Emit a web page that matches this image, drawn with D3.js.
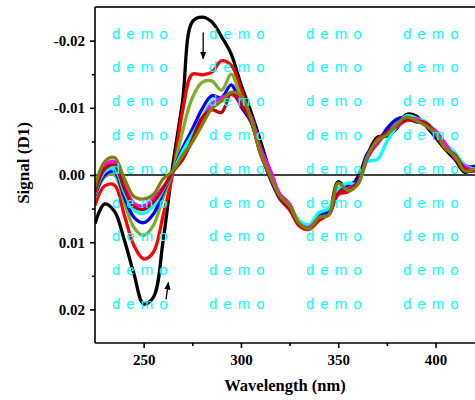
<!DOCTYPE html>
<html>
<head>
<meta charset="utf-8">
<script src="https://cdn.jsdelivr.net/npm/d3@7"></script>
<style>
   body{margin:0;background:#fff;overflow:hidden}
   svg{display:block}
   .tk text{font-family:"Liberation Serif","Times New Roman",serif;font-weight:bold;font-size:15px;fill:#000}
   .tk path, .tk line{stroke:#000;stroke-width:1.6}
   .ttl{font-family:"Liberation Serif","Times New Roman",serif;font-weight:bold;fill:#000}
   .wm{font-family:"Liberation Sans",Arial,sans-serif;font-size:15px;fill:#00ffff;letter-spacing:6px}
</style>
</head>
<body>
<svg id="chart" width="475" height="400"></svg>
<script>
// wavelength (nm) and first derivative signal, values in units of 1e-3
var wavelengths = [225,230,235,240,245,250,255,260,265,270,275,280,285,290,295,300,305,310,315,320,
   325,330,335,340,345,350,355,360,365,370,375,380,385,390,395,400,405,410,415,420,425];

var sBlack = [7.2,4.3,5.4,9.6,14.7,19.2,18.2,9.8,-1.5,-11.0,-22.8,-23.5,-22.8,-20.6,-18.0,-13.5,-9.5,-5.1,-0.4,3.4,
   5.0,7.1,7.7,6.5,5.6,1.0,2.2,0.3,-3.0,-5.6,-5.8,-6.9,-9.0,-8.8,-7.3,-5.6,-3.8,-2.3,-0.4,-1.1,-2.0];
var sRed = [4.5,1.6,1.5,5.9,10.5,12.5,11.5,6.0,-0.3,-9.5,-15.0,-14.9,-15.3,-17.0,-16.3,-12.8,-8.5,-3.4,0.4,3.6,
   5.2,7.6,8.1,6.8,5.8,2.9,2.5,1.3,-2.6,-5.3,-6.4,-7.9,-8.3,-8.1,-7.8,-6.0,-4.4,-3.0,-1.0,-0.9,-1.8];
var sGreen = [3.4,0.3,0.0,4.0,7.8,9.0,7.5,3.3,-0.5,-6.5,-11.5,-13.8,-14.0,-12.6,-15.0,-11.5,-8.3,-3.2,0.2,3.0,
   4.4,7.0,7.8,6.0,5.5,2.4,1.6,0.9,-3.0,-4.8,-6.5,-7.8,-8.4,-8.3,-7.4,-6.3,-4.2,-2.7,-1.2,-1.0,-2.1];
var sBlue = [3.0,0.0,-0.5,3.2,6.3,7.1,5.8,2.6,-0.5,-4.0,-6.8,-9.8,-11.8,-11.5,-13.4,-10.2,-8.0,-3.6,0.5,3.4,
   4.9,7.0,7.6,5.9,5.4,2.2,1.5,0.7,-3.2,-4.6,-6.9,-8.3,-8.6,-7.9,-7.7,-5.6,-4.4,-3.1,-1.4,-1.3,-2.2];
var sCyan = [2.8,-0.5,-1.0,2.5,5.2,5.7,4.6,2.2,-0.5,-3.5,-6.0,-8.5,-10.8,-11.0,-12.3,-10.5,-8.6,-3.8,-0.2,3.0,
   4.5,6.8,7.4,5.6,5.0,2.0,1.2,1.4,-2.0,-2.3,-5.0,-7.2,-8.8,-8.5,-7.9,-6.5,-4.6,-3.3,-1.5,-0.9,-1.7];
var sMagenta = [2.3,-1.4,-2.0,1.5,4.2,4.6,3.5,1.8,-0.5,-2.5,-5.0,-8.0,-10.6,-11.5,-12.0,-10.8,-8.8,-4.0,-0.8,2.8,
   4.3,7.3,7.8,6.4,6.0,2.8,2.0,1.2,-2.5,-4.7,-6.2,-7.2,-8.1,-8.4,-7.5,-6.6,-4.7,-2.5,-1.3,-0.7,-1.9];
var sDarkRed = [2.6,-0.9,-1.5,2.0,4.7,5.1,4.0,2.0,-0.5,-2.3,-5.3,-8.5,-9.7,-9.3,-12.2,-10.5,-8.2,-3.2,0.3,3.3,
   4.8,7.4,8.0,6.5,5.9,2.7,2.2,1.1,-2.7,-5.0,-6.3,-7.4,-8.2,-8.0,-7.8,-6.1,-3.9,-3.0,-0.9,-0.6,-1.8];
var sOlive = [1.8,-2.0,-2.6,0.5,3.2,3.6,2.9,0.6,-0.6,-2.9,-4.9,-7.4,-9.9,-11.0,-12.3,-11.8,-8.5,-3.3,0.1,3.1,
   4.6,7.2,8.0,6.3,6.0,1.2,2.3,1.4,-2.8,-5.1,-6.0,-7.5,-8.6,-8.1,-7.3,-6.2,-4.0,-2.8,-0.6,-0.9,-2.1];

var seriesNames = ['black','red','green','blue','cyan','magenta','darkred','olive'];
var seriesColors = ['#000000','#ff0000','#78b02a','#0000ff','#00ffff','#ff00ff','#c00000','#808000'];
var seriesValues = [sBlack,sRed,sGreen,sBlue,sCyan,sMagenta,sDarkRed,sOlive];

var yTicks = [-0.02,-0.01,0,0.01,0.02];
var yMinor = [-0.015,-0.005,0.005,0.015];
var xTicks = [250,300,350,400];
var xMinor = [275,325,375];

// arrows: [wl, signal] start -> end
var arrowDown = [[280.6,-0.0212],[280.6,-0.0173]];
var arrowUp = [[261.5,0.0185],[262.7,0.0160]];

var svg = d3.select('#chart');
var m = {l:95, t:7, b:343};
var x = d3.scaleLinear().domain([225,425]).range([m.l, m.l + 389.2]);
var y = d3.scaleLinear().domain([-0.025,0.025]).range([m.t, m.b]);

svg.append('defs').append('clipPath').attr('id','plot')
   .append('rect').attr('x',m.l).attr('y',m.t).attr('width',400).attr('height',m.b - m.t);

// frame
svg.append('line').attr('x1',m.l).attr('x2',490).attr('y1',m.t).attr('y2',m.t)
   .attr('stroke','#333').attr('stroke-width',2);

// zero line
svg.append('line').attr('x1',m.l).attr('x2',490).attr('y1',y(0)).attr('y2',y(0))
   .attr('stroke','#000').attr('stroke-width',1.3);

var line = d3.line()
   .x(function(d,i){ return x(wavelengths[i]); })
   .y(function(d){ return y(d*1e-3); })
   .curve(d3.curveCatmullRom.alpha(0.5));

var g = svg.append('g').attr('clip-path','url(#plot)');
seriesValues.forEach(function(vals,i){
   g.append('path')
      .attr('d', line(vals))
      .attr('fill','none')
      .attr('stroke', seriesColors[i])
      .attr('stroke-width', 3.3)
      .attr('stroke-linejoin','round')
      .attr('class','s-' + seriesNames[i]);
});

// arrows
var defs = svg.select('defs');
defs.append('marker').attr('id','ah').attr('viewBox','0 0 10 10').attr('refX',9).attr('refY',5)
   .attr('markerWidth',6).attr('markerHeight',6).attr('orient','auto')
   .append('path').attr('d','M0,1 L10,5 L0,9 z').attr('fill','#000');
[arrowDown, arrowUp].forEach(function(a){
   svg.append('line')
      .attr('x1',x(a[0][0])).attr('y1',y(a[0][1]))
      .attr('x2',x(a[1][0])).attr('y2',y(a[1][1]))
      .attr('stroke','#000').attr('stroke-width',1.3)
      .attr('marker-end','url(#ah)');
});

// axes
var fmt = function(d){ return d.toFixed(2); };
svg.append('g').attr('class','tk').attr('transform','translate(' + m.l + ',0)')
   .call(d3.axisLeft(y).tickValues(yTicks).tickSize(5).tickPadding(5).tickFormat(fmt))
   .call(function(s){ s.select('.domain').attr('d','M0,' + m.t + 'V' + m.b); });
svg.append('g').attr('class','tk').attr('transform','translate(' + m.l + ',0)')
   .call(d3.axisLeft(y).tickValues(yMinor).tickSize(3).tickFormat(''))
   .call(function(s){ s.select('.domain').remove(); });

svg.append('g').attr('class','tk').attr('transform','translate(0,' + m.b + ')')
   .call(d3.axisBottom(x).tickValues(xTicks).tickSize(5).tickPadding(6).tickFormat(d3.format('d')))
   .call(function(s){ s.select('.domain').attr('d','M' + m.l + ',0H490'); });
svg.append('g').attr('class','tk').attr('transform','translate(0,' + m.b + ')')
   .call(d3.axisBottom(x).tickValues(xMinor).tickSize(3).tickFormat(''))
   .call(function(s){ s.select('.domain').remove(); });

// titles
svg.append('text').attr('class','ttl').attr('x',285).attr('y',391)
   .attr('text-anchor','middle').style('font-size','16.5px').text('Wavelength (nm)');
svg.append('text').attr('class','ttl').attr('transform','translate(29,163) rotate(-90)')
   .attr('text-anchor','middle').style('font-size','17px').text('Signal (D1)');

// watermark
var wm = svg.append('g');
for(var r = 0; r < 9; r++){
   for(var c = 0; c < 4; c++){
      wm.append('text').attr('class','wm')
         .attr('x', 112 + c*97).attr('y', 38.5 + r*33.8)
         .text('demo');
   }
}
</script>
</body>
</html>
